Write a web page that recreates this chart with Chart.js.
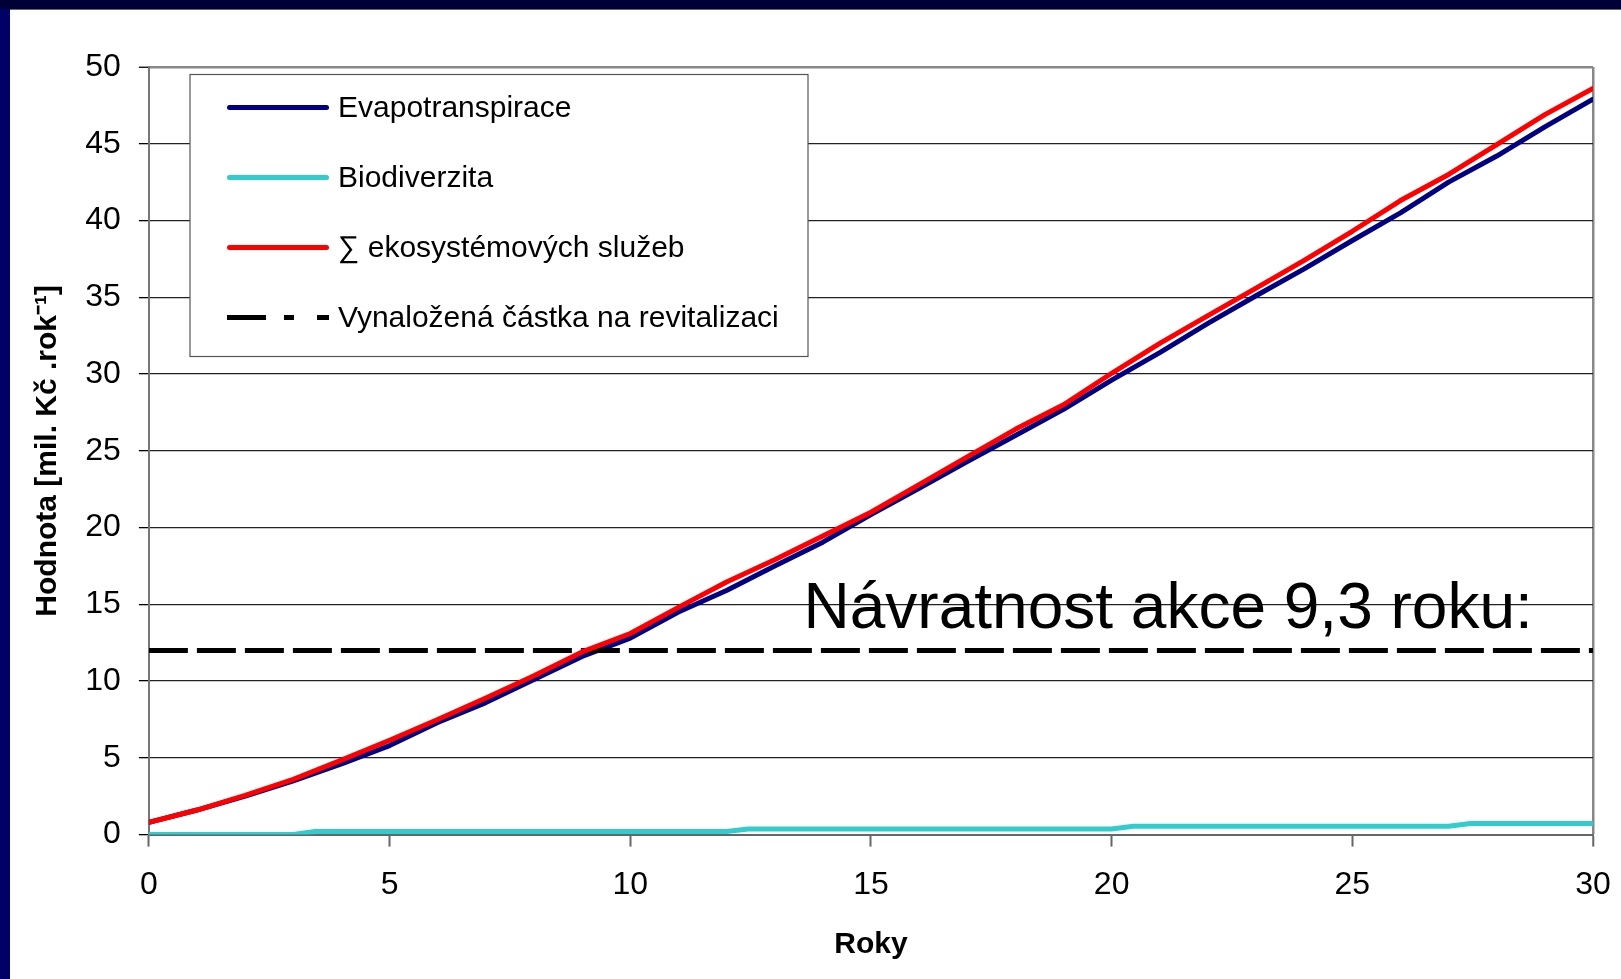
<!DOCTYPE html>
<html>
<head>
<meta charset="utf-8">
<title>Návratnost akce</title>
<script src="https://cdn.jsdelivr.net/npm/chart.js@4.4.1/dist/chart.umd.min.js"></script>
<style>
  html, body { margin: 0; padding: 0; background: #000066; }
  #frame { position: absolute; left: 0; top: 0; width: 1621px; height: 979px; background: #000066; overflow: hidden; }
  #topbar { position: absolute; left: 0; top: 0; width: 1621px; height: 9px; background: #000038; }
  #sheet { position: absolute; left: 10px; top: 9px; width: 1611px; height: 970px; background: #fff; }
  #rule { position: absolute; left: 10px; top: 9px; width: 1611px; height: 1px; background: #666; }
  canvas { display: block; }
</style>
</head>
<body>
<div id="frame">
  <div id="topbar"></div>
  <div id="sheet"><canvas id="myChart" width="1611" height="970"></canvas></div>
  <div id="rule"></div>
</div>
<script>
// roky (x) a hodnoty v mil. Kč
const years = [0, 1, 2, 3, 4, 5, 6, 7, 8, 9, 10, 11, 12, 13, 14, 15, 16, 17, 18, 19, 20, 21, 22, 23, 24, 25, 26, 27, 28, 29, 30];
const evapotranspirace = [0.8, 1.6, 2.5, 3.5, 4.6, 5.8, 7.3, 8.6, 10.1, 11.6, 12.8, 14.5, 15.9, 17.5, 19.05, 20.85, 22.55, 24.3, 26.0, 27.7, 29.6, 31.4, 33.3, 35.1, 36.85, 38.7, 40.5, 42.5, 44.2, 46.1, 47.9];
const ekosystemoveSluzby = [0.8, 1.6, 2.55, 3.6, 4.85, 6.15, 7.5, 8.9, 10.35, 11.9, 13.1, 14.8, 16.45, 17.9, 19.45, 21.0, 22.8, 24.6, 26.4, 28.0, 30.05, 32.0, 33.8, 35.6, 37.4, 39.3, 41.3, 43.0, 44.95, 46.9, 48.6];
const bioYears = [0, 3, 3.45, 12, 12.45, 20, 20.45, 27, 27.45, 30];
const biodiverzita = [0, 0, 0.2, 0.2, 0.37, 0.37, 0.55, 0.55, 0.72, 0.72];
const castkaYears = [0, 30];
const castka = [12, 12];
const seriesNames = ['Evapotranspirace', 'Biodiverzita', '\u2211 ekosystémových služeb', 'Vynaložená částka na revitalizaci'];
const xRange = [0, 30];
const yRange = [0, 50];
const tickStep = 5;
const note = 'Návratnost akce 9,3 roku:';

const toPoints = (xs, ys) => xs.map((x, i) => ({ x: x, y: ys[i] }));

Chart.defaults.font.family = '"Liberation Sans", Arial, sans-serif';
Chart.defaults.color = '#000';

// legenda v rámečku uvnitř grafu
const boxLegend = {
  id: 'boxLegend',
  afterDatasetsDraw(chart, args, opts) {
    const ctx = chart.ctx;
    ctx.save();
    ctx.fillStyle = '#fff';
    ctx.fillRect(opts.left, opts.top, opts.width, opts.height);
    ctx.strokeStyle = '#555';
    ctx.lineWidth = 1.2;
    ctx.strokeRect(opts.left, opts.top, opts.width, opts.height);
    chart.data.datasets.forEach((ds, i) => {
      const y = opts.top + opts.firstRow + i * opts.rowGap;
      ctx.strokeStyle = ds.borderColor;
      ctx.lineWidth = 5;
      if (ds.legendDash) {
        ctx.setLineDash(ds.legendDash);
        ctx.lineCap = 'butt';
        ctx.beginPath();
        ctx.moveTo(opts.sampleX0, y);
        ctx.lineTo(opts.sampleX1, y);
      } else {
        ctx.setLineDash([]);
        ctx.lineCap = 'round';
        ctx.beginPath();
        ctx.moveTo(opts.sampleX0 + 2.5, y);
        ctx.lineTo(opts.sampleX1 - 2.5, y);
      }
      ctx.stroke();
      ctx.fillStyle = '#000';
      ctx.font = '30px "Liberation Sans", Arial, sans-serif';
      ctx.textBaseline = 'middle';
      ctx.textAlign = 'left';
      ctx.fillText(ds.label, opts.textX, y + 1);
    });
    ctx.restore();
  }
};

const noteText = {
  id: 'noteText',
  afterDatasetsDraw(chart, args, opts) {
    const ctx = chart.ctx;
    const { x, y } = chart.scales;
    ctx.save();
    ctx.fillStyle = '#000';
    ctx.font = '64px "Liberation Sans", Arial, sans-serif';
    ctx.textBaseline = 'alphabetic';
    ctx.textAlign = 'left';
    ctx.fillText(opts.text, x.getPixelForValue(opts.at[0]), y.getPixelForValue(opts.at[1]));
    ctx.restore();
  }
};

const ctx = document.getElementById('myChart').getContext('2d');
const myChart = new Chart(ctx, {
  type: 'line',
  data: {
    datasets: [
      {
        label: seriesNames[0],
        data: toPoints(years, evapotranspirace),
        borderColor: '#000080',
        order: 2
      },
      {
        label: seriesNames[1],
        data: toPoints(bioYears, biodiverzita),
        borderColor: '#33cccc',
        order: 3
      },
      {
        label: seriesNames[2],
        data: toPoints(years, ekosystemoveSluzby),
        borderColor: '#ff0000',
        order: 0
      },
      {
        label: seriesNames[3],
        data: toPoints(castkaYears, castka),
        borderColor: '#000000',
        borderDash: [39, 9],
        borderCapStyle: 'butt',
        legendDash: [39, 18, 10, 23, 12],
        order: 1
      }
    ]
  },
  options: {
    responsive: false,
    animation: false,
    layout: { padding: { left: 0, right: 28, top: 58, bottom: 10 } },
    elements: {
      point: { radius: 0 },
      line: { borderWidth: 5, tension: 0, fill: false, borderCapStyle: 'round', borderJoinStyle: 'round' }
    },
    plugins: {
      legend: { display: false },
      tooltip: { enabled: false },
      boxLegend: { left: 180, top: 65.5, width: 618, height: 282, firstRow: 33, rowGap: 70, sampleX0: 217, sampleX1: 319, textX: 328 },
      noteText: { text: note, at: [13.6, 13.45] }
    },
    scales: {
      x: {
        type: 'linear',
        min: xRange[0],
        max: xRange[1],
        // the "30" label may hang past the plot edge, as in the original
        afterFit: scale => { scale.paddingRight = 0; },
        ticks: { stepSize: tickStep, color: '#000', font: { size: 32 }, padding: 19.5 },
        grid: {
          color: c => (c.tick && c.tick.value === xRange[1]) ? '#888' : 'rgba(0,0,0,0)',
          lineWidth: c => (c.tick && c.tick.value === xRange[1]) ? 2.5 : 1,
          tickColor: '#666',
          tickWidth: 2,
          tickLength: 12
        },
        border: { color: '#666', width: 2 },
        title: {
          display: true,
          text: 'Roky',
          color: '#000',
          font: { size: 30, weight: 'bold' },
          padding: { top: 3, bottom: 6 }
        }
      },
      y: {
        min: yRange[0],
        max: yRange[1],
        ticks: { stepSize: tickStep, color: '#000', font: { size: 32 }, padding: 18 },
        grid: {
          color: c => {
            const v = c.tick ? c.tick.value : null;
            if (v === yRange[1]) return '#888';
            if (v === yRange[0]) return '#666';
            return '#222';
          },
          lineWidth: c => (c.tick && c.tick.value === yRange[1]) ? 2.5 : 1.3,
          tickColor: '#000',
          tickWidth: 1.3,
          tickLength: 10
        },
        border: { color: '#777', width: 2 },
        title: {
          display: true,
          text: 'Hodnota [mil. Kč .rok\u207B\u00B9]',
          color: '#000',
          font: { size: 30, weight: 'bold' },
          padding: { top: 19.5, bottom: 1.8 }
        }
      }
    }
  },
  plugins: [boxLegend, noteText]
});
</script>
</body>
</html>
